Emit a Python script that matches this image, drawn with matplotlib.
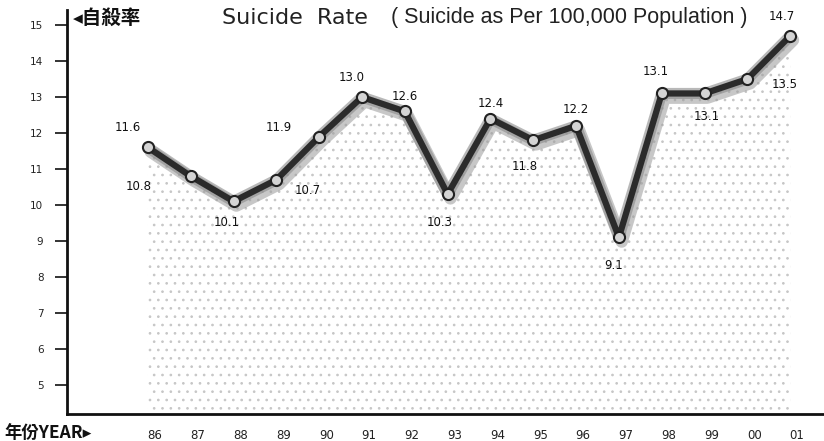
import matplotlib
matplotlib.use("Agg")
import matplotlib.pyplot as plt
import matplotlib.patheffects as pe
import matplotlib.transforms as mtransforms
import numpy as np

years = ["86", "87", "88", "89", "90", "91", "92", "93", "94", "95", "96", "97", "98", "99", "00", "01"]
rates = [11.6, 10.8, 10.1, 10.7, 11.9, 13.0, 12.6, 10.3, 12.4, 11.8, 12.2, 9.1, 13.1, 13.1, 13.5, 14.7]
value_labels = ["11.6", "10.8", "10.1", "10.7", "11.9", "13.0", "12.6", "10.3", "12.4", "11.8", "12.2", "9.1", "13.1", "13.1", "13.5", "14.7"]
label_offsets = [(-20, 20), (-52, -10), (-7, -21), (31, -11), (-40, 9), (-10, 20), (0, 15), (-8, -28),
                 (0, 15), (-9, -26), (0, 16), (-5, -28), (-6, 22), (2, -23), (37, -5), (-8, 19)]
yticks = [5, 6, 7, 8, 9, 10, 11, 12, 13, 14, 15]

plt.rcParams['font.family'] = ['DejaVu Sans']
plt.rcParams['hatch.linewidth'] = 0.7
plt.rcParams['hatch.color'] = '#c6c6c6'
fig = plt.figure(figsize=(8.24, 4.41), dpi=100)
ax = fig.add_axes([67 / 824, 1 - 414 / 441, 1 - 67 / 824, (414 - 10) / 441])

x = np.arange(len(years))
ax.set_xlim(-1.89, 15.79)
ax.set_ylim(4.19, 15.42)

# stippled area under the line
ax.fill_between(x, 4.19, rates, facecolor='white', edgecolor='#c6c6c6', hatch='..', linewidth=0, zorder=1)

ax.plot(x, rates, color='#2b2b2b', linewidth=4.5, solid_capstyle='round', zorder=3,
        path_effects=[pe.SimpleLineShadow(offset=(2, -3), shadow_color='#9a9a9a', alpha=0.55, linewidth=9),
                      pe.Stroke(linewidth=8, foreground='#8a8a8a', alpha=0.6),
                      pe.Normal()])
ax.plot(x, rates, linestyle='none', marker='o', markersize=8, markerfacecolor='#d4d4d4',
        markeredgecolor='#222222', markeredgewidth=1.5, zorder=4)

for xi, v, lab, off in zip(x, rates, value_labels, label_offsets):
    ax.annotate(lab, (xi, v), xytext=off, textcoords='offset pixels', ha='center', va='center',
                fontsize=8.5, color='#111111', zorder=5)

ax.set_yticks(yticks)
ax.set_yticklabels([str(t) for t in yticks], fontsize=7.5, color='#222222')
ax.tick_params(axis='y', direction='out', length=9, width=1.2, pad=8, color='#111111')
ax.set_xticks(x)
ax.set_xticklabels(years, fontsize=8.5, color='#222222')
ax.tick_params(axis='x', length=0, pad=11)
shift = mtransforms.ScaledTranslation(7 / 100, 0, fig.dpi_scale_trans)
for lbl in ax.get_xticklabels():
    lbl.set_transform(lbl.get_transform() + shift)

for s in ['top', 'right']:
    ax.spines[s].set_visible(False)
ax.spines['left'].set_linewidth(2)
ax.spines['bottom'].set_linewidth(2)
ax.spines['left'].set_color('#111111')
ax.spines['bottom'].set_color('#111111')

fig.text(73 / 824, 1 - 18 / 441, "◂自殺率", fontsize=14, fontweight='bold', ha='left', va='center',
         family=['Noto Sans CJK TC', 'DejaVu Sans'], color='#111111')
fig.text(222 / 824, 1 - 18 / 441, "Suicide  Rate", fontsize=16,
         ha='left', va='center', family=['DejaVu Sans'], color='#222222')
fig.text(391 / 824, 1 - 18 / 441, "( Suicide as Per 100,000 Population )", fontsize=15.5,
         ha='left', va='center', family=['Liberation Sans', 'DejaVu Sans'], color='#222222')
fig.text(4 / 824, 1 - 433 / 441, "年份YEAR▸", fontsize=12.5, fontweight='bold', ha='left', va='center',
         family=['Noto Sans CJK TC', 'DejaVu Sans'], color='#111111')

fig.savefig("out.png", dpi=100)
